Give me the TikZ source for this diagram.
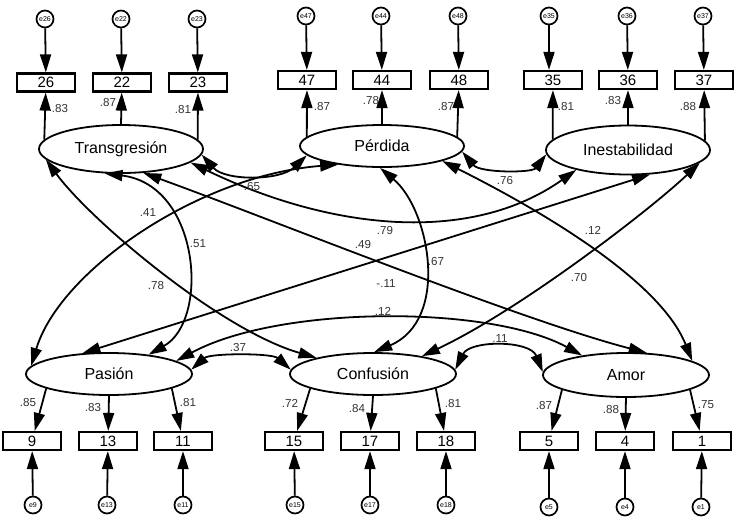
\documentclass[tikz,border=0pt]{standalone}
\usepackage{fontspec}
\setmainfont{Liberation Sans}
\usetikzlibrary{shapes.geometric,arrows.meta}
\begin{document}
\begin{tikzpicture}[x=0.5pt,y=-0.5pt,
  >={Triangle[length=9pt,width=5.5pt]},
  lat/.style={ellipse,draw,line width=0.9pt,inner sep=0pt,minimum width=82pt,minimum height=24pt,font=\fontsize{8}{9}\selectfont},
  ind/.style={rectangle,draw,line width=1.1pt,inner sep=0pt,minimum width=29pt,minimum height=9pt,font=\fontsize{7.5}{8}\selectfont},
  err/.style={circle,draw,line width=0.85pt,inner sep=0pt,minimum size=8.5pt,font=\fontsize{3.5}{4}\selectfont},
  coef/.style={font=\fontsize{5.8}{6.5}\selectfont,text=black!80,inner sep=0pt},
  load/.style={line width=0.9pt,->},
  cov/.style={line width=0.9pt,<->},
]
\useasboundingbox (0,0) rectangle (736,521);
\fill[white] (0,0) rectangle (736,521);

% latent variables
\node[lat,minimum height=24pt] (T) at (121,149) {Transgresión};
\node[lat,minimum height=21pt] (P) at (382,146) {Pérdida};
\node[lat,minimum height=24.5pt] (I) at (628,150) {Inestabilidad};
\node[lat,minimum width=83pt,minimum height=21pt] (Pa) at (109,374) {Pasión};
\node[lat,minimum width=83pt,minimum height=21pt] (C) at (373,374) {Confusión};
\node[lat,minimum width=83pt,minimum height=22pt] (A) at (626,375) {Amor};

% top indicators
\node[ind] (b26) at (46,82.5) {26};
\node[ind] (b22) at (122,82.5) {22};
\node[ind] (b23) at (198,82.5) {23};
\node[ind] (b47) at (307,80) {47};
\node[ind] (b44) at (382,80) {44};
\node[ind] (b48) at (459,80) {48};
\node[ind] (b35) at (553,80) {35};
\node[ind] (b36) at (628,80) {36};
\node[ind] (b37) at (704,80) {37};
% top errors
\node[err] (e26) at (45,19) {e26};
\node[err] (e22) at (121,19) {e22};
\node[err] (e23) at (197,19) {e23};
\node[err] (e47) at (306,16) {e47};
\node[err] (e44) at (381,16) {e44};
\node[err] (e48) at (458,16) {e48};
\node[err] (e35) at (549,16) {e35};
\node[err] (e36) at (627,16) {e36};
\node[err] (e37) at (703,16) {e37};

% bottom indicators
\node[ind] (b9) at (32,441) {9};
\node[ind] (b13) at (108,441) {13};
\node[ind] (b11) at (183,441) {11};
\node[ind] (b15) at (294,441) {15};
\node[ind] (b17) at (370,441) {17};
\node[ind] (b18) at (446,441) {18};
\node[ind] (b5) at (549,441) {5};
\node[ind] (b4) at (625,441) {4};
\node[ind] (b1) at (702,441) {1};
% bottom errors
\node[err] (e9) at (33,505) {e9};
\node[err] (e13) at (107,505) {e13};
\node[err] (e11) at (183,505) {e11};
\node[err] (e15) at (295,505) {e15};
\node[err] (e17) at (370,505) {e17};
\node[err] (e18) at (446,505) {e18};
\node[err] (e5) at (549,507) {e5};
\node[err] (e4) at (625,507) {e4};
\node[err] (e1) at (701,507) {e1};

% error arrows
\foreach \k in {26,22,23,47,44,48,36,37,9,13,11,15,17,18,5,4,1}{\draw[load] (e\k) -- (b\k);}
\draw[load] (e35) -- (e35 |- b35.north);

% loadings
\draw[load] (T.173) -- (b26);
\draw[load] (T.90) -- (b22);
\draw[load] (T.7) -- (b23);
\draw[load] (P.173.5) -- (b47);
\draw[load] (P.90) -- (b44);
\draw[load] (P.7) -- (b48);
\draw[load] (I.172.6) -- (b35);
\draw[load] (I.90) -- (b36);
\draw[load] (I.7.4) -- (b37);
\draw[load] (Pa.193) -- (b9);
\draw[load] (Pa.270) -- (b13);
\draw[load] (Pa.347) -- (b11);
\draw[load] (C.193) -- (b15);
\draw[load] (C.270) -- (b17);
\draw[load] (C.347) -- (b18);
\draw[load] (A.193) -- (b5);
\draw[load] (A.270) -- (b4);
\draw[load] (A.347) -- (b1);

% covariances
\draw[cov] (T.356) .. controls (225,181) and (280,181) .. (P.187);
\draw[cov] (P.356.5) .. controls (480,173) and (532,173) .. (I.183.5);
\draw[cov] (T.349) .. controls (330,230) and (470,245) .. (I.201);
\draw[cov] (T.236) .. controls (200,185) and (210,320) .. (Pa.26);
\draw[cov] (T.188) .. controls (90,220) and (220,330) .. (C.164.5);
\draw[cov] (T.313.6) .. controls (260,215) and (520,320) .. (A.47);
\draw[cov] (P.203) .. controls (200,175) and (60,270) .. (Pa.174);
\draw[cov] (P.265) .. controls (430,210) and (450,320) .. (C.87);
\draw[cov] (P.346) .. controls (540,210) and (660,280) .. (A.12);
\draw[cov] (Pa.142.6) -- (I.312.5);
\draw[cov] (I.350) .. controls (650,210) and (520,310) .. (C.20);
\draw[cov] (Pa.11) .. controls (280,305) and (490,305) .. (A.156);
\draw[cov] (Pa.3) .. controls (210,353) and (272,353) .. (C.177);
\draw[cov] (C.3) .. controls (470,340) and (530,340) .. (A.178);

% loading labels
\node[coef] (l26) at (60,109) {.83};
\node[coef] (l22) at (108,103) {.87};
\node[coef] (l23) at (183,110) {.81};
\node[coef] (l47) at (322,107) {.87};
\node[coef] (l44) at (371,101) {.78};
\node[coef] (l48) at (446,107) {.87};
\node[coef] (l35) at (566,107) {.81};
\node[coef] (l36) at (613,101) {.83};
\node[coef] (l37) at (688,107) {.88};
\node[coef] (l9) at (28,403) {.85};
\node[coef] (l13) at (93,408) {.83};
\node[coef] (l11) at (188,403) {.81};
\node[coef] (l15) at (290,403) {.72};
\node[coef] (l17) at (357,409) {.84};
\node[coef] (l18) at (453,404) {.81};
\node[coef] (l5) at (544,406) {.87};
\node[coef] (l4) at (611,410) {.88};
\node[coef] (l1) at (706,405) {.75};

% covariance labels
\node[coef] (cTP) at (252,187) {.65};
\node[coef] (cPI) at (505,181) {.76};
\node[coef] (cTI) at (385,231) {.79};
\node[coef] (cPaI) at (363,245) {.49};
\node[coef] (cPPa) at (148,213) {.41};
\node[coef] (cTPa) at (198,244) {.51};
\node[coef] (cTC) at (156,286) {.78};
\node[coef] (cPA) at (593,230) {.12};
\node[coef] (cPC) at (436,262) {.67};
\node[coef] (cIC) at (579,278) {.70};
\node[coef] (cTA) at (386,284) {-.11};
\node[coef] (cPaA) at (383,311) {.12};
\node[coef] (cPaC) at (238,348) {.37};
\node[coef] (cCA) at (500,339) {.11};
\end{tikzpicture}
\end{document}
